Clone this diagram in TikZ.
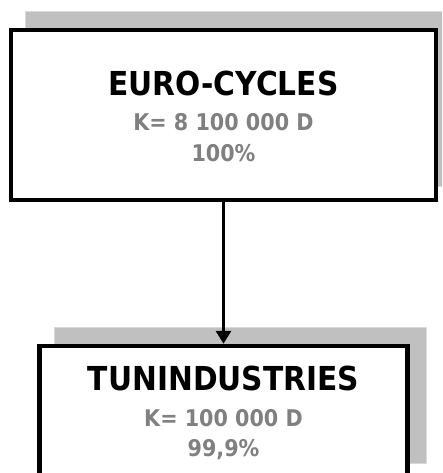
\documentclass[tikz,border=0pt]{standalone}
\usepackage{fontspec}
\setmainfont{DejaVu Sans Condensed}
\usetikzlibrary{arrows.meta,backgrounds}
\definecolor{subgray}{RGB}{128,128,128}
\definecolor{shadowgray}{RGB}{192,192,192}
\definecolor{shadowedge}{RGB}{217,217,217}
\tikzset{
  box/.style={draw=black, line width=4.5pt, fill=white, rectangle, inner sep=0pt},
  shadowbox/.style={fill=shadowgray, draw=shadowedge, line width=1pt},
  titletext/.style={font=\bfseries\fontsize{33}{36}\selectfont, text=black, anchor=base, inner sep=0pt},
  subtext/.style={font=\bfseries\fontsize{23}{26}\selectfont, text=subgray, anchor=base, inner sep=0pt},
  link/.style={line width=3.5pt, -{Triangle[width=15pt,length=13pt]}}
}
\begin{document}
\begin{tikzpicture}[x=1pt,y=1pt]
\useasboundingbox (0,0) rectangle (442,-473);
\clip (0,0) rectangle (442,-473);
\node[box, minimum width=425pt, minimum height=170pt] (euro) at (223.5,-115) {};
\node[box, minimum width=368pt, minimum height=131pt] (tuni) at (223.5,-411.5) {};
\begin{scope}[on background layer]
  \clip (0,0) rectangle (442,-473);
  \draw[shadowbox] ([shift={(17,16)}]euro.south west) rectangle ([shift={(17,16)}]euro.north east);
  \draw[shadowbox] ([shift={(17,16)}]tuni.south west) rectangle ([shift={(17,16)}]tuni.north east);
\end{scope}
\draw[link] (euro.south) -- (tuni.north);
\node[titletext] (eurotitle) at (223.5,-96) {EURO-CYCLES};
\node[subtext] (eurocap) at (223.5,-131) {K= 8 100 000 D};
\node[subtext] (europct) at (223.5,-161) {100\%};
\node[titletext] (tunititle) at (223.5,-390) {TUNINDUSTRIES};
\node[subtext] (tunicap) at (223.5,-426) {K= 100 000 D};
\node[subtext] (tunipct) at (223.5,-456) {99,9\%};
\end{tikzpicture}
\end{document}
